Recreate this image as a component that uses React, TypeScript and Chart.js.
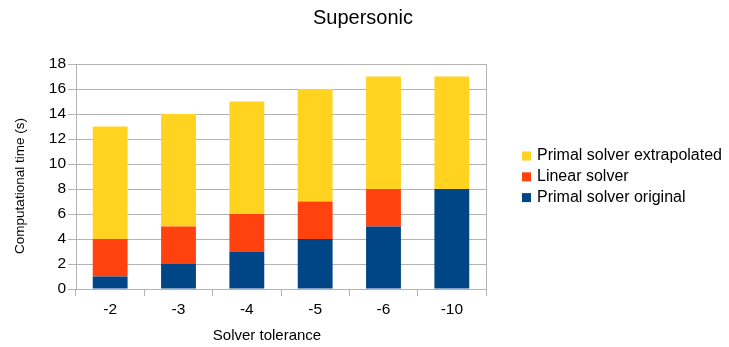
import React, { useEffect, useRef } from "react";
import { Chart, registerables } from "chart.js";

Chart.register(...registerables);

const categories = ["-2", "-3", "-4", "-5", "-6", "-10"];
const primalOriginal = [1, 2, 3, 4, 5, 8];
const linearSolver = [3, 3, 3, 3, 3, 0];
const primalExtrapolated = [9, 9, 9, 9, 9, 9];
const seriesNames = ["Primal solver original", "Linear solver", "Primal solver extrapolated"];
const seriesColors = ["#004586", "#ff420e", "#ffd320"];
const titleText = "Supersonic";
const xTitle = "Solver tolerance";
const yTitle = "Computational time (s)";

const FONT = "'Liberation Sans', Arial, sans-serif";
const GRID = "#b3b3b3";

export default function App() {
  const ref = useRef<HTMLCanvasElement>(null);
  useEffect(() => {
    const canvas = ref.current!;
    const deco = {
      id: "deco",
      afterDraw(chart: any) {
        const ctx = chart.ctx;
        const a = chart.chartArea;
        ctx.save();
        // right border
        ctx.strokeStyle = GRID;
        ctx.lineWidth = 1;
        ctx.beginPath();
        ctx.moveTo(Math.round(a.right) + 0.5, a.top);
        ctx.lineTo(Math.round(a.right) + 0.5, a.bottom);
        ctx.stroke();
        ctx.fillStyle = "#000";
        // title
        ctx.font = `20px ${FONT}`;
        ctx.textAlign = "center";
        ctx.textBaseline = "middle";
        ctx.fillText(titleText, 363, 18);
        // x title
        ctx.font = `15px ${FONT}`;
        ctx.fillText(xTitle, 267, 336);
        // y title
        ctx.save();
        ctx.translate(20, 186);
        ctx.rotate(-Math.PI / 2);
        ctx.font = `13.5px ${FONT}`;
        ctx.fillText(yTitle, 0, 0);
        ctx.restore();
        // legend
        ctx.font = `16px ${FONT}`;
        ctx.textAlign = "left";
        const items = [2, 1, 0];
        items.forEach((si, i) => {
          const y = 156 + i * 20.8;
          ctx.fillStyle = seriesColors[si];
          ctx.fillRect(522, y - 4.5, 9, 9);
          ctx.fillStyle = "#000";
          ctx.fillText(seriesNames[si], 537, y);
        });
        ctx.restore();
      },
    };
    const chart = new Chart(canvas, {
      type: "bar",
      data: {
        labels: categories,
        datasets: [
          { label: seriesNames[0], data: primalOriginal, backgroundColor: seriesColors[0] },
          { label: seriesNames[1], data: linearSolver, backgroundColor: seriesColors[1] },
          { label: seriesNames[2], data: primalExtrapolated, backgroundColor: seriesColors[2] },
        ],
      },
      options: {
        animation: false,
        responsive: false,
        maintainAspectRatio: false,
        layout: { padding: { left: 0, right: 729 - 486, top: 64, bottom: 0 } },
        datasets: { bar: { categoryPercentage: 0.51, barPercentage: 1 } },
        plugins: { legend: { display: false }, title: { display: false }, tooltip: { enabled: false } },
        scales: {
          x: {
            stacked: true,
            offset: true,
            grid: { offset: true, drawOnChartArea: false, drawTicks: true, tickLength: 7, color: GRID },
            border: { display: true, color: GRID },
            ticks: { color: "#000", font: { family: FONT, size: 15.5 }, padding: 4, maxRotation: 0 },
            afterFit: (s: any) => { s.height = 347 - 289; },
          },
          y: {
            stacked: true,
            min: 0,
            max: 18,
            ticks: { stepSize: 2, color: "#000", font: { family: FONT, size: 15.5 }, padding: 2 },
            grid: { color: GRID, tickLength: 8, drawTicks: true },
            border: { display: true, color: GRID },
            afterFit: (s: any) => { s.width = 76; },
          },
        },
      },
      plugins: [deco],
    });
    return () => chart.destroy();
  }, []);
  return (
    <div style={{ position: "fixed", left: 0, top: 0, width: 729, height: 347, background: "#fff" }}>
      <canvas ref={ref} width={729} height={347} style={{ width: 729, height: 347, display: "block" }} />
    </div>
  );
}
